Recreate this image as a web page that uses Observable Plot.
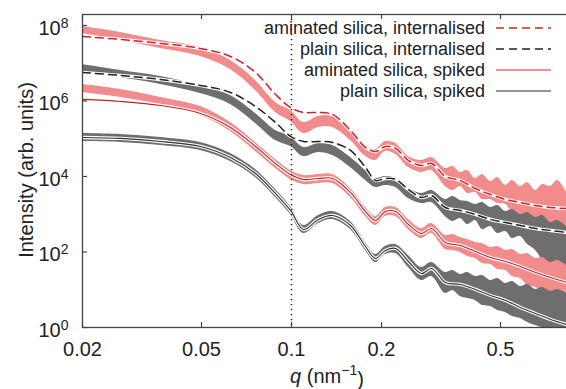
<!DOCTYPE html>
<html><head><meta charset="utf-8">
<script src="https://cdn.jsdelivr.net/npm/d3@7"></script>
<script src="https://cdn.jsdelivr.net/npm/@observablehq/plot@0.6"></script>
<style>
html,body{margin:0;padding:0;background:#fff;}
#chart{width:566px;height:389px;overflow:hidden;}
</style></head><body><div id="chart"></div>
<script>
// q values (nm^-1) for the fitted curves
const fitQ = [0.0200,0.0268,0.0365,0.0496,0.0625,0.0758,0.0884,0.0993,0.1097,0.1231,0.1372,0.1575,0.1768,0.191,0.206,0.223,0.246,0.272,0.294,0.327,0.367,0.412,0.463,0.520,0.583,0.655,0.735,0.831];
// q values for the measured data bands
const bandQ = [0.0200,0.0268,0.0365,0.0496,0.0625,0.0758,0.0884,0.0993,0.1097,0.1231,0.1372,0.1575,0.1768,0.191,0.206,0.223,0.246,0.272,0.294,0.327,0.346,0.367,0.388,0.412,0.435,0.463,0.489,0.520,0.548,0.583,0.616,0.655,0.691,0.735,0.776,0.831];

// fits
const fitAminInt = [5.1e7,4.26e7,3.34e7,2.46e7,1.51e7,5.69e6,1.49e6,6.73e5,4.96e5,4.96e5,4.39e5,1.66e5,5.87e4,4.59e4,6.24e4,5.52e4,2.65e4,1.95e4,2.21e4,1.0e4,7.83e3,4.81e3,3.33e3,2.46e3,2.05e3,1.71e3,1.51e3,1.42e3];
const fitPlainInt = [5.69e6,4.74e6,3.71e6,2.58e6,1.68e6,7.14e5,2.69e5,1.15e5,8.45e4,8.45e4,7.96e4,4.89e4,1.73e4,7.83e3,8.85e3,8.34e3,4.53e3,2.78e3,3.14e3,1.51e3,1.26e3,984,726,604,504,420,372,329];
const fitAminSpk = [1.10e6,9.70e5,7.60e5,4.67e5,1.99e5,6.24e4,2.21e4,1.13e4,8.34e3,8.85e3,8.85e3,3.77e3,1.18e3,682,1.18e3,1.18e3,535,309,420,179,149,103,71.4,56.0,41.3,28.6,21.1,15.6];
const fitPlainSpk = [1.08e5,1.02e5,8.45e4,6.24e4,3.18e4,1.2e4,3.55e3,1.26e3,394,726,927,504,140,67.3,110,124,56,26.9,36.6,15.6,13.8,10.2,7.05,5.19,3.39,2.35,1.63,1.20];

// measured data bands (upper / lower)
const aminIntHi = [9.41e7,6.53e7,4.01e7,2.61e7,1.18e7,3.49e6,9.12e5,5.6e5,2.69e5,3.88e5,3.88e5,1.87e5,6.62e4,5.19e4,8.45e4,7.48e4,3.39e4,2.65e4,3.18e4,1.63e4,1.84e4,1.28e4,1.44e4,8.85e3,1.13e4,7.38e3,9.42e3,5.78e3,7.83e3,5.43e3,6.93e3,4.26e3,6.14e3,5.43e3,7.83e3,3.77e3];
const aminIntLo = [6.14e7,4.01e7,2.46e7,1.51e7,6.83e6,1.90e6,4.96e5,2.86e5,1.38e5,1.99e5,1.99e5,9.0e4,3.39e4,2.65e4,4.59e4,3.83e4,1.73e4,1.28e4,1.44e4,5.43e3,4.26e3,5.43e3,3.55e3,3.77e3,2.46e3,2.46e3,1.93e3,1.81e3,1.11e3,927,420,329,202,43.9,67.3,258];
const plainIntHi = [9.27e6,6.43e6,4.46e6,2.58e6,1.40e6,4.67e5,1.66e5,1.15e5,5.87e4,7.48e4,6.62e4,3.18e4,1.44e4,8.85e3,1.0e4,8.85e3,4.81e3,3.55e3,4.26e3,2.46e3,2.95e3,2.31e3,2.18e3,1.81e3,2.05e3,1.51e3,1.71e3,1.18e3,1.34e3,984,1.11e3,820,927,604,682,473];
const plainIntLo = [6.05e6,4.19e6,2.74e6,1.58e6,8.08e5,2.54e5,9.0e4,6.24e4,3.39e4,4.33e4,3.6e4,1.73e4,7.83e3,5.12e3,5.78e3,5.12e3,2.61e3,1.93e3,2.05e3,871,643,771,535,682,394,473,309,349,228,258,158,110,52.7,5.19,1.0,1.0];
const aminSpkHi = [2.74e6,2.02e6,1.24e6,7.14e5,2.69e5,7.96e4,2.82e4,1.44e4,1.06e4,1.13e4,1.13e4,4.81e3,1.51e3,871,1.51e3,1.51e3,726,420,569,274,291,242,214,179,168,132,140,110,116,85.9,91.2,67.3,71.4,52.7,59.6,43.9];
const aminSpkLo = [1.68e6,1.24e6,8.08e5,4.13e5,1.56e5,4.59e4,1.63e4,8.34e3,6.14e3,6.53e3,6.53e3,2.78e3,871,504,871,871,394,228,309,116,110,97,76,67.3,49.5,46.7,34.4,32.4,22.4,19.9,13.0,11.5,7.96,6.62,4.59,5.86];
const plainSpkHi = [1.38e5,1.30e5,1.08e5,7.96e4,4.06e4,1.53e4,4.53e3,1.60e3,504,927,1.18e3,643,179,85.9,140,158,80.7,38.8,52.7,28.6,32.4,25.4,28.6,22.4,23.8,17.6,19.9,14.7,16.6,12.2,13.8,10.2,11.5,9.0,10.2,7.96];
const plainSpkLo = [8.45e4,7.96e4,6.62e4,4.89e4,2.49e4,9.42e3,2.78e3,984,309,569,726,394,110,52.7,85.9,91.2,38.8,17.6,22.4,7.96,9.55,6.62,5.86,5.19,3.83,3.6,2.82,2.49,1.95,1.73,1.36,1.13,1.0,1.0,1.0,1.0];

const guideQ = [0.1];
const xTicks = [0.02, 0.05, 0.1, 0.2, 0.5];
const yTicks = [1, 1e2, 1e4, 1e6, 1e8];
const legendLabels = ["aminated silica, internalised", "plain silica, internalised", "aminated silica, spiked", "plain silica, spiked"];

const pink = "#f28c8c", grayBand = "#6e6e6e";
const W = 566, H = 389, mL = 82, mR = 0, mT = 14, mB = 62;
const plotW = W - mL - mR, plotH = H - mT - mB;

const fitRows = v => fitQ.map((q, i) => ({q, I: v[i]}));
const bandRows = (hi, lo) => bandQ.map((q, i) => ({q, hi: hi[i], lo: lo[i]}));

const band = (hi, lo, fill) => Plot.areaY(bandRows(hi, lo), {x: "q", y1: "lo", y2: "hi", fill, curve: "catmull-rom", clip: true});
const halo = v => Plot.line(fitRows(v), {x: "q", y: "I", stroke: "white", strokeWidth: 3.4, curve: "catmull-rom", clip: true});
const fit = (v, stroke, dash, sw) => Plot.line(fitRows(v), {x: "q", y: "I", stroke, strokeWidth: sw, strokeDasharray: dash, curve: "catmull-rom", clip: true});

const chart = Plot.plot({
  width: W, height: H,
  marginLeft: mL, marginRight: mR, marginTop: mT, marginBottom: mB,
  style: {fontFamily: '"Liberation Sans", Arial, sans-serif', background: "#fff", color: "#222"},
  x: {type: "log", domain: [0.02, 0.831]},
  y: {type: "log", domain: [1, 1.95e8]},
  marks: [
    band(aminIntHi, aminIntLo, pink),
    band(plainIntHi, plainIntLo, grayBand),
    band(aminSpkHi, aminSpkLo, pink),
    band(plainSpkHi, plainSpkLo, grayBand),
    halo(fitAminInt), fit(fitAminInt, "#d92020", "8,5", 1.5),
    halo(fitPlainInt), fit(fitPlainInt, "#222", "8,5", 1.5),
    halo(fitAminSpk), fit(fitAminSpk, "#c81e1e", null, 1.1),
    halo(fitPlainSpk), fit(fitPlainSpk, "#333", null, 1.1),
    Plot.ruleX(guideQ, {stroke: "#222", strokeWidth: 1.5, strokeDasharray: "1.3,3.7"}),
    Plot.frame({stroke: "#444", strokeWidth: 1.3, insetRight: -3}),
    Plot.tickX(xTicks, {x: d => d, insetTop: plotH - 5, stroke: "#444", strokeWidth: 1.2}),
    Plot.tickX(xTicks, {x: d => d, insetBottom: plotH - 5, stroke: "#444", strokeWidth: 1.2}),
    Plot.tickY(yTicks, {y: d => d, insetRight: plotW - 5, stroke: "#444", strokeWidth: 1.2}),
    Plot.axisX({ticks: xTicks, tickSize: 0, tickPadding: 14, fontSize: 20, tickFormat: d => String(d), label: null, fill: "#222"}),
    Plot.axisY({ticks: yTicks, tickSize: 0, tickPadding: 14, fontSize: 20, tickFormat: d => "10^" + Math.round(Math.log10(d)), label: null, dy: 3, fill: "#222"})
  ]
});

const svg = d3.select(chart);
svg.selectAll('g[aria-label="y-axis tick label"] text').each(function () {
  const t = d3.select(this);
  const [b, e] = t.text().split("^");
  t.text(null);
  t.append("tspan").text(b);
  t.append("tspan").attr("dy", "-0.5em").attr("font-size", "14px").text(e);
});

// axis titles
const xl = svg.append("text").attr("x", 327).attr("y", 383).attr("text-anchor", "middle")
  .attr("font-size", 20).attr("fill", "#222");
xl.append("tspan").attr("font-style", "italic").text("q");
xl.append("tspan").text(" (nm");
xl.append("tspan").attr("dy", "-0.55em").attr("font-size", "14px").text("−1");
xl.append("tspan").attr("dy", "0.55em").text(")");

svg.append("text").attr("transform", "translate(26,170) rotate(-90)").attr("text-anchor", "middle")
  .attr("dominant-baseline", "central").attr("font-size", 20).attr("fill", "#222")
  .text("Intensity (arb. units)");

// legend
const legStyles = [
  {stroke: "#d92020", dash: "8,5"},
  {stroke: "#222", dash: "8,5"},
  {stroke: "#ee6a6a", dash: null},
  {stroke: "#707070", dash: null}
];
const legY = [28, 49, 70, 91];
legendLabels.forEach((lab, i) => {
  svg.append("text").attr("x", 485).attr("y", legY[i]).attr("text-anchor", "end")
    .attr("dominant-baseline", "central").attr("font-size", 18).attr("fill", "#222").text(lab);
  svg.append("line").attr("x1", 496).attr("x2", 551).attr("y1", legY[i]).attr("y2", legY[i])
    .attr("stroke", legStyles[i].stroke).attr("stroke-width", 1.6)
    .attr("stroke-dasharray", legStyles[i].dash);
});

document.getElementById("chart").appendChild(chart);
</script>
</body></html>
